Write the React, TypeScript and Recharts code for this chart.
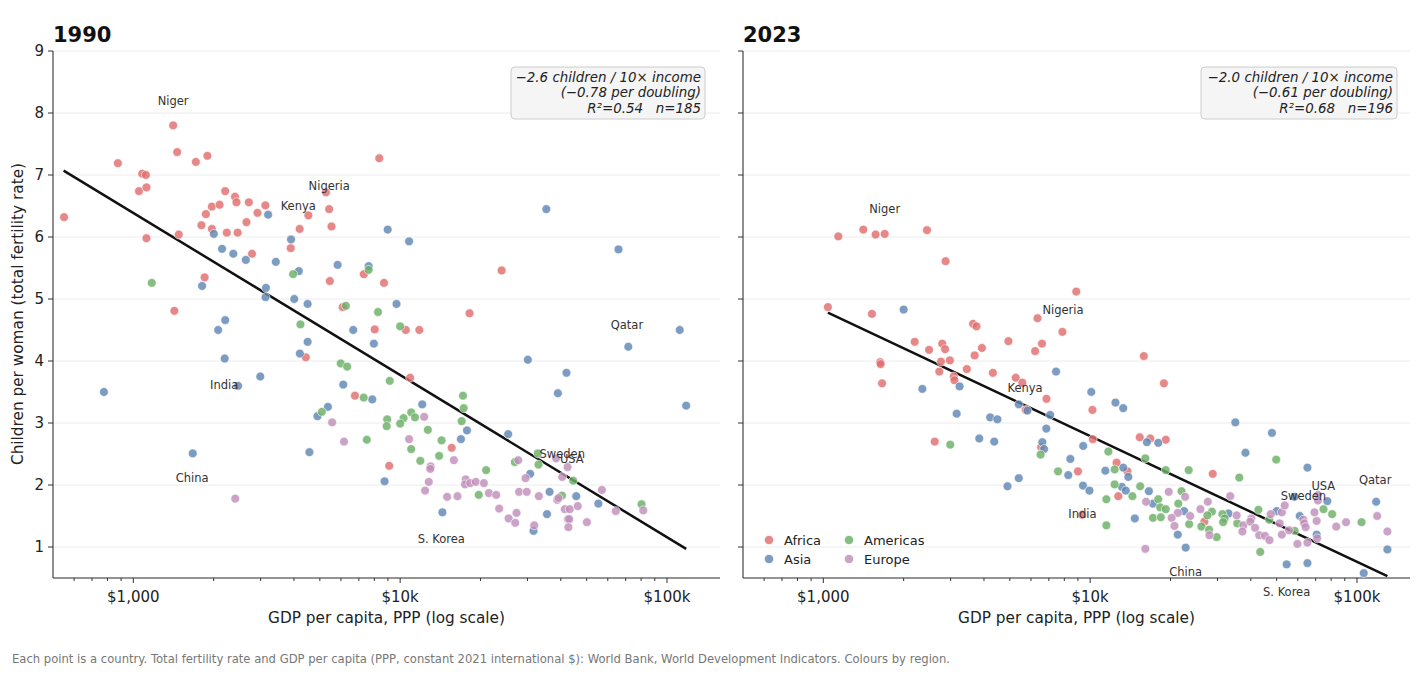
import React from 'react';
import { ScatterChart, Scatter, XAxis, YAxis, CartesianGrid, ReferenceLine, ReferenceDot } from 'recharts';

type Pt = { gdp: number; tfr: number };
type Lbl = { name: string; gdp: number; tfr: number };

const FONT = '"DejaVu Sans", Verdana, sans-serif';

// ---------- 1990 ----------
const africa1990: Pt[] = [
  [550, 6.32], [875, 7.19], [1080, 7.02], [1115, 7.0], [1050, 6.74], [1120, 6.8], [1120, 5.98], [1410, 7.8],
  [1460, 7.37], [1715, 7.21], [1895, 7.31], [1425, 4.81], [1480, 6.04], [1850, 5.35], [1800, 6.19], [1870, 6.37],
  [1970, 6.49], [2105, 6.52], [2210, 6.74], [1970, 6.13], [2240, 6.07], [2405, 6.65], [2435, 6.56], [2460, 6.07],
  [2710, 6.56], [2655, 6.24], [2920, 6.39], [3125, 6.51], [2785, 5.73], [3890, 5.82], [4200, 6.13], [4530, 6.35],
  [5270, 6.72], [5420, 6.45], [5530, 6.17], [5450, 5.29], [7310, 5.4], [8700, 5.26], [8350, 7.27], [6090, 4.87],
  [8030, 4.51], [10500, 4.5], [11800, 4.5], [18200, 4.77], [24000, 5.46], [4430, 4.06], [10900, 3.73], [6770, 3.44],
  [15600, 2.6], [9100, 2.31],
].map(([gdp, tfr]) => ({ gdp, tfr }));

const asia1990: Pt[] = [
  [3200, 6.36], [2003, 6.05], [2150, 5.81], [2370, 5.73], [2640, 5.63], [3420, 5.6], [1810, 5.21], [3140, 5.18],
  [3130, 5.03], [3900, 5.96], [4170, 5.45], [4010, 5.0], [4500, 4.92], [5830, 5.55], [7620, 5.53], [8980, 6.12],
  [10800, 5.93], [9690, 4.92], [35300, 6.45], [65800, 5.8], [111600, 4.5], [2080, 4.5], [2210, 4.66], [6670, 4.5],
  [4500, 4.31], [4210, 4.12], [7970, 4.28], [2200, 4.04], [2990, 3.75], [776, 3.5], [2470, 3.6], [6120, 3.62],
  [7860, 3.38], [5360, 3.26], [4900, 3.11], [4570, 2.53], [1670, 2.51], [12100, 3.3], [17800, 2.88], [16900, 2.74],
  [25400, 2.82], [30100, 4.02], [42000, 3.81], [39000, 3.48], [71600, 4.23], [118000, 3.28], [8740, 2.06], [30700, 2.18],
  [36300, 1.89], [45700, 1.82], [55300, 1.7], [14400, 1.56], [35500, 1.53], [31600, 1.26],
].map(([gdp, tfr]) => ({ gdp, tfr }));

const americas1990: Pt[] = [
  [1172, 5.26], [3970, 5.4], [7620, 5.47], [6260, 4.89], [8260, 4.79], [4230, 4.59], [10000, 4.56], [5990, 3.96],
  [6330, 3.91], [9140, 3.68], [7300, 3.41], [5090, 3.18], [7500, 2.73], [8940, 3.06], [8900, 2.95], [10300, 3.08],
  [10000, 2.99], [11000, 3.17], [11370, 3.09], [11000, 2.58], [12700, 2.89], [14300, 2.72], [11900, 2.39], [14000, 2.47],
  [17200, 3.44], [17300, 3.24], [17000, 3.03], [21000, 2.24], [19700, 1.84], [26900, 2.37], [32800, 2.51], [33000, 2.33],
  [40400, 1.83], [44500, 2.07], [80300, 1.69],
].map(([gdp, tfr]) => ({ gdp, tfr }));

const europe1990: Pt[] = [
  [2410, 1.78], [5560, 3.01], [6160, 2.7], [10800, 2.74], [12300, 3.1], [13000, 2.3], [12970, 2.26], [12800, 2.05],
  [12400, 1.91], [15000, 1.81], [16400, 1.82], [15900, 2.4], [17600, 2.09], [17500, 2.01], [18300, 2.03], [19200, 2.05],
  [20600, 2.03], [21500, 1.87], [22900, 1.84], [23500, 1.62], [25500, 1.46], [27000, 1.39], [27300, 1.55], [27700, 2.4],
  [27900, 1.89], [29800, 1.89], [29500, 2.11], [33100, 1.82], [31800, 1.35], [38400, 2.43], [40500, 2.13], [42400, 2.29],
  [38800, 1.76], [39200, 1.79], [41400, 1.61], [43200, 1.61], [42500, 1.45], [43000, 1.45], [42700, 1.32], [46300, 1.66],
  [50100, 1.4], [57000, 1.92], [64300, 1.58], [81500, 1.59],
].map(([gdp, tfr]) => ({ gdp, tfr }));

// ---------- 2023 ----------
const africa2023: Pt[] = [
  [1040, 4.87], [1138, 6.01], [1412, 6.12], [1570, 6.04], [1698, 6.05], [2446, 6.11], [2872, 5.61], [8870, 5.12],
  [1521, 4.76], [6350, 4.69], [3640, 4.6], [3750, 4.56], [7870, 4.47], [2200, 4.31], [2490, 4.18], [2790, 4.28],
  [2860, 4.19], [2980, 4.01], [2760, 3.99], [2720, 3.83], [3080, 3.75], [3100, 3.69], [3690, 4.09], [3930, 4.21],
  [3450, 3.87], [4320, 3.81], [4940, 4.32], [6220, 4.16], [6600, 4.28], [5260, 3.73], [5570, 3.65], [1633, 3.98],
  [1640, 3.95], [1660, 3.64], [6860, 3.39], [5730, 3.21], [10200, 3.21], [15890, 4.08], [18900, 3.64], [2615, 2.7],
  [6550, 2.61], [10230, 2.74], [15340, 2.77], [16800, 2.75], [19200, 2.73], [9000, 2.22], [12560, 2.36], [13800, 2.22],
  [12750, 1.82], [28800, 2.18], [9330, 1.52], [26800, 1.41],
].map(([gdp, tfr]) => ({ gdp, tfr }));

const asia2023: Pt[] = [
  [2000, 4.83], [7450, 3.83], [2350, 3.55], [3240, 3.59], [10100, 3.5], [12440, 3.33], [13300, 3.24], [5400, 3.3],
  [5820, 3.2], [7080, 3.13], [3160, 3.15], [4220, 3.09], [4490, 3.06], [6850, 2.91], [3840, 2.75], [4370, 2.7],
  [6620, 2.69], [6720, 2.58], [9420, 2.63], [16320, 2.69], [18000, 2.68], [8430, 2.42], [8280, 2.16], [11400, 2.23],
  [13300, 2.28], [13900, 2.13], [13150, 1.97], [13600, 1.91], [9400, 1.99], [9940, 1.91], [4900, 1.98], [5400, 2.11],
  [16600, 1.9], [17200, 1.7], [14700, 1.46], [21300, 1.2], [22800, 0.99], [22500, 1.58], [33000, 1.54], [35000, 3.01],
  [48000, 2.84], [38200, 2.52], [65200, 2.28], [58300, 1.81], [50000, 1.58], [61000, 1.5], [77400, 1.74], [70600, 1.2],
  [54500, 0.72], [65200, 0.74], [106000, 0.58], [118000, 1.73], [130000, 0.96],
].map(([gdp, tfr]) => ({ gdp, tfr }));

const americas2023: Pt[] = [
  [2990, 2.65], [6520, 2.49], [7580, 2.22], [11700, 2.54], [12350, 2.25], [12350, 2.01], [11500, 1.77], [11500, 1.35],
  [15400, 1.98], [14400, 1.82], [16100, 2.43], [18000, 1.77], [18300, 1.64], [19200, 1.61], [17200, 1.47], [18400, 1.48],
  [19200, 2.24], [23400, 2.24], [21400, 1.7], [22000, 1.9], [23500, 1.37], [26100, 1.33], [27900, 1.28], [29800, 1.16],
  [28600, 1.57], [27500, 1.51], [31300, 1.53], [31900, 1.46], [31500, 1.4], [35600, 1.38], [36200, 2.12], [42700, 1.6],
  [46900, 1.44], [43400, 0.92], [49800, 2.41], [58400, 1.26], [74900, 1.61], [80700, 1.53], [104000, 1.4],
].map(([gdp, tfr]) => ({ gdp, tfr }));

const europe2023: Pt[] = [
  [16100, 0.97], [16200, 1.73], [19700, 1.89], [22700, 1.81], [21300, 1.55], [20200, 1.47], [20700, 1.34], [23700, 1.5],
  [25900, 1.61], [27600, 1.73], [28000, 1.19], [33500, 1.82], [35400, 1.51], [37500, 1.35], [37200, 1.25], [40200, 1.46],
  [39800, 1.41], [41500, 1.31], [43000, 1.19], [45200, 1.18], [47000, 1.11], [47500, 1.53], [51300, 1.38], [52300, 1.56],
  [53600, 1.67], [52300, 1.2], [55600, 1.27], [59800, 1.05], [65200, 1.07], [62900, 1.44], [63400, 1.38], [64200, 1.32],
  [69300, 1.56], [70600, 1.42], [71400, 1.84], [71400, 1.75], [83600, 1.33], [91000, 1.4], [119000, 1.5], [130000, 1.25],
  [70900, 1.14],
].map(([gdp, tfr]) => ({ gdp, tfr }));

// ---------- fitted lines (endpoints at min / max income) ----------
const trend1990: Pt[] = [{ gdp: 548, tfr: 7.07 }, { gdp: 118000, tfr: 0.97 }];
const trend2023: Pt[] = [{ gdp: 1040, tfr: 4.78 }, { gdp: 130000, tfr: 0.53 }];

// ---------- country label anchors ----------
const labels1990: Lbl[] = [
  { name: 'Niger', gdp: 1410, tfr: 8.19 },
  { name: 'Nigeria', gdp: 5420, tfr: 6.82 },
  { name: 'Kenya', gdp: 4150, tfr: 6.5 },
  { name: 'Qatar', gdp: 70800, tfr: 4.58 },
  { name: 'India', gdp: 2190, tfr: 3.61 },
  { name: 'China', gdp: 1660, tfr: 2.11 },
  { name: 'Sweden', gdp: 40500, tfr: 2.5 },
  { name: 'USA', gdp: 44000, tfr: 2.42 },
  { name: 'S. Korea', gdp: 14260, tfr: 1.13 },
];
const labels2023: Lbl[] = [
  { name: 'Niger', gdp: 1698, tfr: 6.45 },
  { name: 'Nigeria', gdp: 7910, tfr: 4.83 },
  { name: 'Kenya', gdp: 5700, tfr: 3.57 },
  { name: 'India', gdp: 9350, tfr: 1.54 },
  { name: 'China', gdp: 22800, tfr: 0.6 },
  { name: 'S. Korea', gdp: 54500, tfr: 0.28 },
  { name: 'Sweden', gdp: 63000, tfr: 1.83 },
  { name: 'USA', gdp: 74800, tfr: 1.99 },
  { name: 'Qatar', gdp: 117000, tfr: 2.09 },
];

const stats1990 = ['\u22122.6 children / 10\u00d7 income', '(\u22120.78 per doubling)', 'R\u00b2=0.54   n=185'];
const stats2023 = ['\u22122.0 children / 10\u00d7 income', '(\u22120.61 per doubling)', 'R\u00b2=0.68   n=196'];

const regions = ['Africa', 'Asia', 'Americas', 'Europe'];
const regionColors: Record<string, string> = {
  Africa: '#e06c6e',
  Asia: '#5f86b3',
  Americas: '#6bb066',
  Europe: '#bf8fba',
};

const xTicks = [600, 700, 800, 900, 1000, 2000, 3000, 4000, 5000, 6000, 7000, 8000, 9000, 10000, 20000, 30000, 40000, 50000, 60000, 70000, 80000, 90000, 100000];
const xTickLabels: Record<number, string> = { 1000: '$1,000', 10000: '$10k', 100000: '$100k' };
const yTicks = [1, 2, 3, 4, 5, 6, 7, 8, 9];

const X_DOMAIN: [number, number] = [500, 158000];
const Y_DOMAIN: [number, number] = [0.5, 9];

const AXIS_COLOR = '#333';

const XTick = (props: any) => {
  const { x, y, payload } = props;
  const label = xTickLabels[payload.value];
  return (
    <g>
      <line x1={x} x2={x} y1={y} y2={y + (label ? 5 : 3)} stroke={AXIS_COLOR} strokeWidth={1} />
      {label && (
        <text x={x} y={y + 23.5} textAnchor="middle" fontSize={15} fill="#222" fontFamily={FONT}>
          {label}
        </text>
      )}
    </g>
  );
};

const makeYTick = (showLabel: boolean) => (props: any) => {
  const { x, y, payload } = props;
  return (
    <g>
      <line x1={x - 5} x2={x} y1={y} y2={y} stroke={AXIS_COLOR} strokeWidth={1} />
      {showLabel && (
        <text x={x - 9} y={y + 5.4} textAnchor="end" fontSize={15} fill="#222" fontFamily={FONT}>
          {payload.value}
        </text>
      )}
    </g>
  );
};

const dotShape = (color: string) => (p: any) => (
  <circle cx={p.cx} cy={p.cy} r={4.4} fill={color} fillOpacity={0.82} stroke="#fff" strokeWidth={0.6} />
);

type PanelProps = {
  left: number;
  series: Record<string, Pt[]>;
  trend: Pt[];
  labels: Lbl[];
  showYLabels: boolean;
};

function Panel({ left, series, trend, labels, showYLabels }: PanelProps) {
  return (
    <div style={{ position: 'absolute', left, top: 0 }}>
      <ScatterChart width={730} height={640} margin={{ top: 51, right: 10, bottom: 0, left: 0 }} style={{ fontFamily: FONT }}>
        <CartesianGrid vertical={false} stroke="#ececec" strokeWidth={1} />
        <XAxis
          type="number"
          dataKey="gdp"
          scale="log"
          domain={X_DOMAIN}
          allowDataOverflow
          ticks={xTicks}
          interval={0}
          tickSize={0}
          tickMargin={0}
          tickLine={false}
          tick={XTick}
          axisLine={{ stroke: AXIS_COLOR, strokeWidth: 1.1 }}
          height={62}
        />
        <YAxis
          type="number"
          dataKey="tfr"
          domain={Y_DOMAIN}
          allowDataOverflow
          ticks={yTicks}
          interval={0}
          tickSize={0}
          tickMargin={0}
          tickLine={false}
          tick={makeYTick(showYLabels)}
          axisLine={{ stroke: AXIS_COLOR, strokeWidth: 1.1 }}
          width={53}
        />
        {regions.map((r) => (
          <Scatter key={r} name={r} data={series[r]} fill={regionColors[r]} shape={dotShape(regionColors[r])} isAnimationActive={false} />
        ))}
        <ReferenceLine
          segment={[{ x: trend[0].gdp, y: trend[0].tfr }, { x: trend[1].gdp, y: trend[1].tfr }]}
          stroke="#111"
          strokeWidth={2.5}
          ifOverflow="visible"
        />
        {labels.map((l) => (
          <ReferenceDot
            key={l.name}
            x={l.gdp}
            y={l.tfr}
            r={0}
            fill="none"
            stroke="none"
            ifOverflow="visible"
            label={{ value: l.name, position: 'center', fontSize: 11.5, fill: '#333', fontFamily: FONT }}
          />
        ))}
      </ScatterChart>
    </div>
  );
}

function StatsBox({ x1, x2, lines }: { x1: number; x2: number; lines: string[] }) {
  return (
    <g>
      <rect x={x1} y={67} width={x2 - x1} height={52} rx={4} fill="#f5f5f5" stroke="#cccccc" strokeWidth={1} />
      {lines.map((t, i) => (
        <text
          key={i}
          x={x2 - 4}
          y={82 + i * 15.3}
          textAnchor="end"
          fontSize={13.4}
          fontStyle="italic"
          fill="#222"
          fontFamily={FONT}
          style={{ whiteSpace: 'pre' }}
        >
          {t}
        </text>
      ))}
    </g>
  );
}

export default function App() {
  return (
    <div style={{ position: 'absolute', left: 0, top: 0, width: 1421, height: 676, background: '#fff', fontFamily: FONT }}>
      <Panel
        left={0}
        series={{ Africa: africa1990, Asia: asia1990, Americas: americas1990, Europe: europe1990 }}
        trend={trend1990}
        labels={labels1990}
        showYLabels
      />
      <Panel
        left={690}
        series={{ Africa: africa2023, Asia: asia2023, Americas: americas2023, Europe: europe2023 }}
        trend={trend2023}
        labels={labels2023}
        showYLabels={false}
      />
      <svg width={1421} height={676} style={{ position: 'absolute', left: 0, top: 0, pointerEvents: 'none' }}>
        <text x={53} y={42} fontSize={21} fontWeight="bold" fill="#111" fontFamily={FONT}>1990</text>
        <text x={743} y={42} fontSize={21} fontWeight="bold" fill="#111" fontFamily={FONT}>2023</text>
        <text
          x={23}
          y={314}
          transform="rotate(-90 23 314)"
          textAnchor="middle"
          fontSize={15.3}
          fill="#222"
          fontFamily={FONT}
        >
          Children per woman (total fertility rate)
        </text>
        <text x={386.5} y={622.5} textAnchor="middle" fontSize={15.3} fill="#222" fontFamily={FONT}>
          GDP per capita, PPP (log scale)
        </text>
        <text x={1076.5} y={622.5} textAnchor="middle" fontSize={15.3} fill="#222" fontFamily={FONT}>
          GDP per capita, PPP (log scale)
        </text>
        <StatsBox x1={511} x2={705} lines={stats1990} />
        <StatsBox x1={1201} x2={1397} lines={stats2023} />
        {regions.map((r, i) => {
          const col = i === 0 || i === 1 ? 0 : 1;
          const row = i === 0 || i === 2 ? 0 : 1;
          const cx = col === 0 ? 769 : 849;
          const cy = row === 0 ? 540 : 559;
          return (
            <g key={r}>
              <circle cx={cx} cy={cy} r={4.6} fill={regionColors[r]} fillOpacity={0.82} stroke="#fff" strokeWidth={0.6} />
              <text x={cx + 15} y={cy + 4.6} fontSize={13} fill="#222" fontFamily={FONT}>{r}</text>
            </g>
          );
        })}
        <text x={12} y={662.5} fontSize={11.6} fill="#777" fontFamily={FONT}>
          Each point is a country. Total fertility rate and GDP per capita (PPP, constant 2021 international $): World Bank, World Development Indicators. Colours by region.
        </text>
      </svg>
    </div>
  );
}
